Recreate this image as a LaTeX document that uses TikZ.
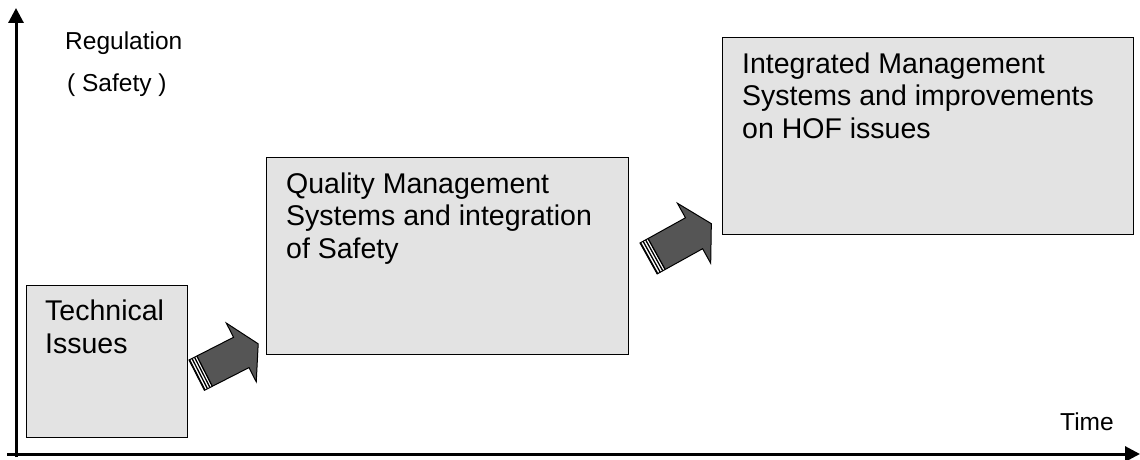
\documentclass[tikz,border=0pt]{standalone}
\usepackage{fontspec}
\setmainfont{Liberation Sans}
\usetikzlibrary{arrows.meta}
\definecolor{boxgray}{RGB}{227,227,227}
\definecolor{arrowgray}{RGB}{85,85,85}
\tikzset{
  stagebox/.style={draw=black,line width=1.4pt,fill=boxgray,anchor=north west,inner sep=0pt},
  stagetext/.style={anchor=base west,inner sep=0pt,align=left,font=\fontsize{28.5}{32.5}\selectfont},
  axislabel/.style={anchor=base west,inner sep=0pt,font=\fontsize{24.5}{28}\selectfont},
  axisline/.style={line width=3pt,-{Triangle[length=15pt,width=15pt]}},
  pics/stagearrow/.style={code={
    \fill[arrowgray] (0,0) -- (50,0) -- (50,-16) -- (69,17) -- (50,50) -- (50,34) -- (0,34) -- cycle;
    \fill[white] (0,0) rectangle (8.5,34);
    \foreach \s in {0.6,3.4,6.2,8.8} {\draw[line width=1.3pt] (\s,0) -- (\s,34);}
    \draw[line width=1pt,line join=miter] (0,0) -- (50,0) -- (50,-16) -- (69,17) -- (50,50) -- (50,34) -- (0,34) -- cycle;
  }}
}
\begin{document}
\begin{tikzpicture}[x=1pt,y=-1pt]
\useasboundingbox (0,0) rectangle (1140,460);
% axes
\coordinate (yfoot) at (16,457);
\coordinate (ytop) at (16,8);
\coordinate (xfoot) at (7,454);
\coordinate (xtip) at (1140,454);
\draw[axisline] (yfoot) -- (ytop);
\draw[axisline] (xfoot) -- (xtip);
\node[axislabel] (reg) at (65,50) {Regulation};
\node[axislabel] (saf) at (67,91) {( Safety )};
\node[axislabel] (time) at (1060,430) {Time};
% boxes
\node[stagebox,minimum width=161pt,minimum height=152pt] (b1) at (26,285) {};
\node[stagebox,minimum width=362pt,minimum height=197pt] (b2) at (266,157) {};
\node[stagebox,minimum width=411pt,minimum height=197pt] (b3) at (722,37) {};
\node[stagetext] (t1) at (45,353) {Technical\\Issues};
\node[stagetext] (t2) at (286,258) {Quality Management\\Systems and integration\\of Safety};
\node[stagetext] (t3) at (742,138) {Integrated Management\\Systems and improvements\\on HOF issues};
% block arrows
\pic[rotate=27] at (189,360) {stagearrow};
\pic[rotate=29,scale=1.04] at (640,243) {stagearrow};
\end{tikzpicture}
\end{document}
